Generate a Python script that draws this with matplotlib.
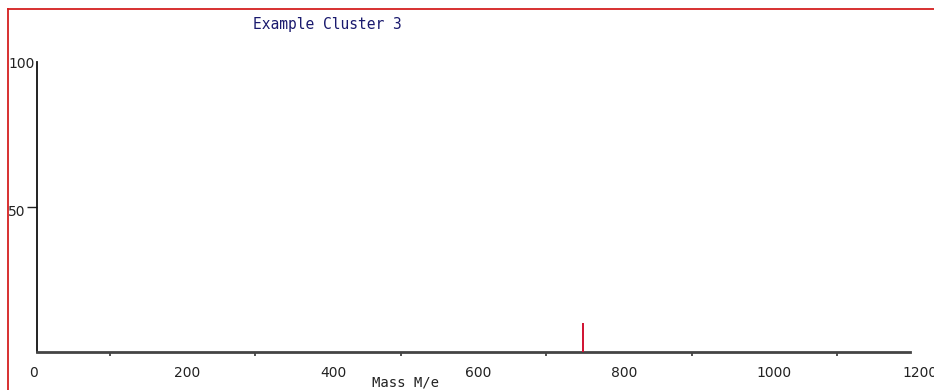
import matplotlib
matplotlib.use("Agg")
import matplotlib.pyplot as plt
from matplotlib.lines import Line2D
from matplotlib.transforms import ScaledTranslation

title = "Example Cluster 3"
xlabel = "Mass M/e"
peak_mass = [750]
peak_intensity = [10]
x_label_values = [0, 200, 400, 600, 800, 1000, 1200]
x_tick_marks = [100, 300, 500, 700, 900, 1100]
y_label_values = [50, 100]

W, H = 934, 390
fig = plt.figure(figsize=(W / 100, H / 100), dpi=100)
fig.patch.set_facecolor("white")

# red frame lines (top and left)
fig.add_artist(Line2D([8 / W, 1.0], [1 - 9 / H, 1 - 9 / H], color="#d42020", lw=1.3))
fig.add_artist(Line2D([8 / W, 8 / W], [0, 1 - 9 / H], color="#d42020", lw=1.3))

x0, x1 = 37, 910
y_top, y_bot = 62, 352
ax = fig.add_axes([x0 / W, 1 - y_bot / H, (x1 - x0) / W, (y_bot - y_top) / H])
ax.set_xlim(0, 1200)
ax.set_ylim(0, 100)
ax.set_facecolor("white")

for s in ["top", "right"]:
    ax.spines[s].set_visible(False)
ax.spines["left"].set_color("#111111")
ax.spines["left"].set_linewidth(1.3)
ax.spines["bottom"].set_color("#444444")
ax.spines["bottom"].set_linewidth(2.0)

ax.vlines(peak_mass, 0, peak_intensity, colors="#d01030", lw=1.4, zorder=3)

# x: tick marks at odd hundreds, labels at even hundreds
ax.set_xticks(x_tick_marks)
ax.set_xticklabels([])
ax.tick_params(axis="x", which="major", direction="out", length=3, width=1.2, color="#333333")
ax.set_xticks(x_label_values, minor=True)
ax.set_xticklabels([str(v) for v in x_label_values], minor=True)
ax.tick_params(axis="x", which="minor", length=0, pad=10, labelsize=10, labelcolor="#222222")
shift = ScaledTranslation(-8 / 100, 0, fig.dpi_scale_trans)
for lbl in ax.get_xticklabels(minor=True):
    lbl.set_horizontalalignment("left")
    lbl.set_transform(lbl.get_transform() + shift)

# y: labels at 50 and 100, tick mark only at 50
ax.set_yticks(y_label_values)
ax.set_yticklabels([str(v) for v in y_label_values])
ax.tick_params(axis="y", which="major", direction="out", length=7, width=1.0,
               color="#222222", pad=1, labelsize=10, labelcolor="#222222")
for t, v in zip(ax.yaxis.get_major_ticks(), y_label_values):
    if v == 100:
        t.tick1line.set_visible(False)
        t.label1.set_transform(t.label1.get_transform() + ScaledTranslation(9 / 100, 0, fig.dpi_scale_trans))
    else:
        t.label1.set_transform(t.label1.get_transform() + ScaledTranslation(0, -3 / 100, fig.dpi_scale_trans))

fig.text(327 / W, 1 - 24 / H, title, ha="center", va="center",
         family="DejaVu Sans Mono", fontsize=10.5, color="#1a1a6e")
fig.text(406 / W, 1 - 383 / H, xlabel, ha="center", va="center",
         family="DejaVu Sans Mono", fontsize=10, color="#222222")

fig.savefig("out.png", dpi=100, facecolor="white")
